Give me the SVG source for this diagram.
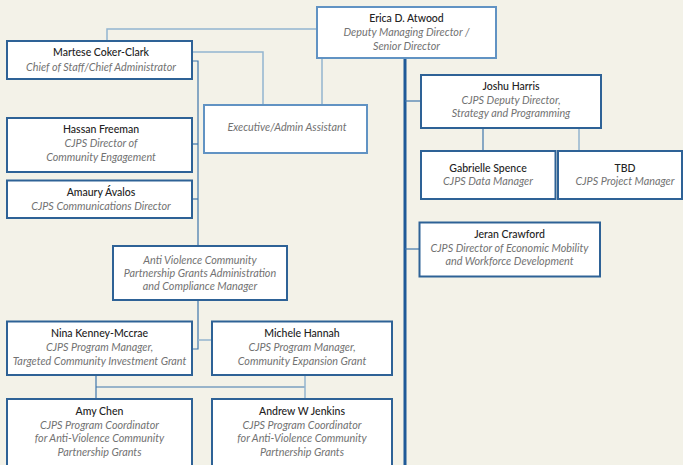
<svg xmlns="http://www.w3.org/2000/svg" width="683" height="465" viewBox="0 0 683 465">
<style>
.bg{fill:#f3f2e8}
.box{fill:#ffffff;stroke:#2e6296;stroke-width:2}
.boxl{fill:#ffffff;stroke:#6193c3;stroke-width:2}
.nm{font-family:Lato,"Open Sans",sans-serif;font-size:10.5px;fill:#222222;text-anchor:middle;font-weight:500}
.tt{font-family:Lato,"Open Sans",sans-serif;font-size:10.8px;font-style:italic;fill:#727272;text-anchor:middle;font-weight:400}
.cl{fill:none;stroke:#93b5cf;stroke-width:1.5}
.cm{fill:none;stroke:#3f76ab;stroke-width:1.2}
.ct{fill:none;stroke:#1f5a98;stroke-width:3}
</style>
<rect class="bg" x="0" y="0" width="683" height="465"/>
<g id="connectors">
<path class="ct" d="M405 58 V465"/>
<path class="cl" d="M317 29 H107 V41"/>
<path class="cl" d="M192 52 H263 V105"/>
<path class="cl" d="M322 58 V105"/>
<path class="cm" d="M192 61 H198 V349 H192"/>
<path class="cm" d="M192 144 H198"/>
<path class="cm" d="M192 199 H198"/>
<path class="cl" d="M198 340 H212"/>
<path class="cm" d="M96 375 V399"/>
<path class="cm" d="M96 387 H305"/>
<path class="cl" d="M305 375 V399"/>
<path class="cm" d="M405 101 H421"/>
<path class="cm" d="M483 128 V151"/>
<path class="cl" d="M579 128 V151"/>
<path class="cm" d="M405 249 H419"/>
</g>
<g id="erica">
<rect class="boxl" x="317" y="7" width="179" height="51"/>
<text class="nm" x="406.5" y="22">Erica D. Atwood</text>
<text class="tt" x="406.5" y="36">Deputy Managing Director /</text>
<text class="tt" x="406.5" y="49.5">Senior Director</text>
</g>
<g id="martese">
<rect class="box" x="7" y="41" width="185" height="38"/>
<text class="nm" x="101" y="56">Martese Coker-Clark</text>
<text class="tt" x="101" y="70.5">Chief of Staff/Chief Administrator</text>
</g>
<g id="exec">
<rect class="boxl" x="204" y="105" width="163" height="48"/>
<text class="tt" x="287" y="130.5">Executive/Admin Assistant</text>
</g>
<g id="hassan">
<rect class="box" x="7" y="118" width="185" height="54"/>
<text class="nm" x="101" y="133">Hassan Freeman</text>
<text class="tt" x="101" y="147">CJPS Director of</text>
<text class="tt" x="101" y="160.5">Community Engagement</text>
</g>
<g id="amaury">
<rect class="box" x="7" y="180.5" width="185" height="37.5"/>
<text class="nm" x="101" y="196">Amaury Ávalos</text>
<text class="tt" x="101" y="209.5">CJPS Communications Director</text>
</g>
<g id="antiviolence">
<rect class="box" x="113" y="246" width="174" height="54"/>
<text class="tt" x="200" y="263.5">Anti Violence Community</text>
<text class="tt" x="200" y="277">Partnership Grants Administration</text>
<text class="tt" x="200" y="289.5">and Compliance Manager</text>
</g>
<g id="nina">
<rect class="box" x="7" y="321.5" width="185" height="53.5"/>
<text class="nm" x="99.5" y="337">Nina Kenney-Mccrae</text>
<text class="tt" x="99.5" y="350.5">CJPS Program Manager,</text>
<text class="tt" x="99.5" y="364.5">Targeted Community Investment Grant</text>
</g>
<g id="michele">
<rect class="box" x="212" y="321.5" width="180" height="53.5"/>
<text class="nm" x="302" y="337">Michele Hannah</text>
<text class="tt" x="302" y="350.5">CJPS Program Manager,</text>
<text class="tt" x="302" y="364.5">Community Expansion Grant</text>
</g>
<g id="amy">
<rect class="box" x="7" y="399" width="185" height="70"/>
<text class="nm" x="99.5" y="414.5">Amy Chen</text>
<text class="tt" x="99.5" y="428.5">CJPS Program Coordinator</text>
<text class="tt" x="99.5" y="442">for Anti-Violence Community</text>
<text class="tt" x="99.5" y="456">Partnership Grants</text>
</g>
<g id="andrew">
<rect class="box" x="212" y="399" width="180" height="70"/>
<text class="nm" x="302" y="414.5">Andrew W Jenkins</text>
<text class="tt" x="302" y="428.5">CJPS Program Coordinator</text>
<text class="tt" x="302" y="442">for Anti-Violence Community</text>
<text class="tt" x="302" y="456">Partnership Grants</text>
</g>
<g id="joshu">
<rect class="box" x="421" y="75" width="180" height="53"/>
<text class="nm" x="511" y="89.5">Joshu Harris</text>
<text class="tt" x="511" y="103.5">CJPS Deputy Director,</text>
<text class="tt" x="511" y="117">Strategy and Programming</text>
</g>
<g id="gabrielle">
<rect class="box" x="421" y="151" width="134.5" height="48"/>
<text class="nm" x="488" y="172">Gabrielle Spence</text>
<text class="tt" x="488" y="185">CJPS Data Manager</text>
</g>
<g id="tbd">
<rect class="box" x="558" y="151" width="124" height="48"/>
<text class="nm" x="625" y="172">TBD</text>
<text class="tt" x="625" y="185">CJPS Project Manager</text>
</g>
<g id="jeran">
<rect class="box" x="419.5" y="222.5" width="180.5" height="54"/>
<text class="nm" x="509.5" y="237.5">Jeran Crawford</text>
<text class="tt" x="509.5" y="252">CJPS Director of Economic Mobility</text>
<text class="tt" x="509.5" y="265">and Workforce Development</text>
</g>
</svg>
